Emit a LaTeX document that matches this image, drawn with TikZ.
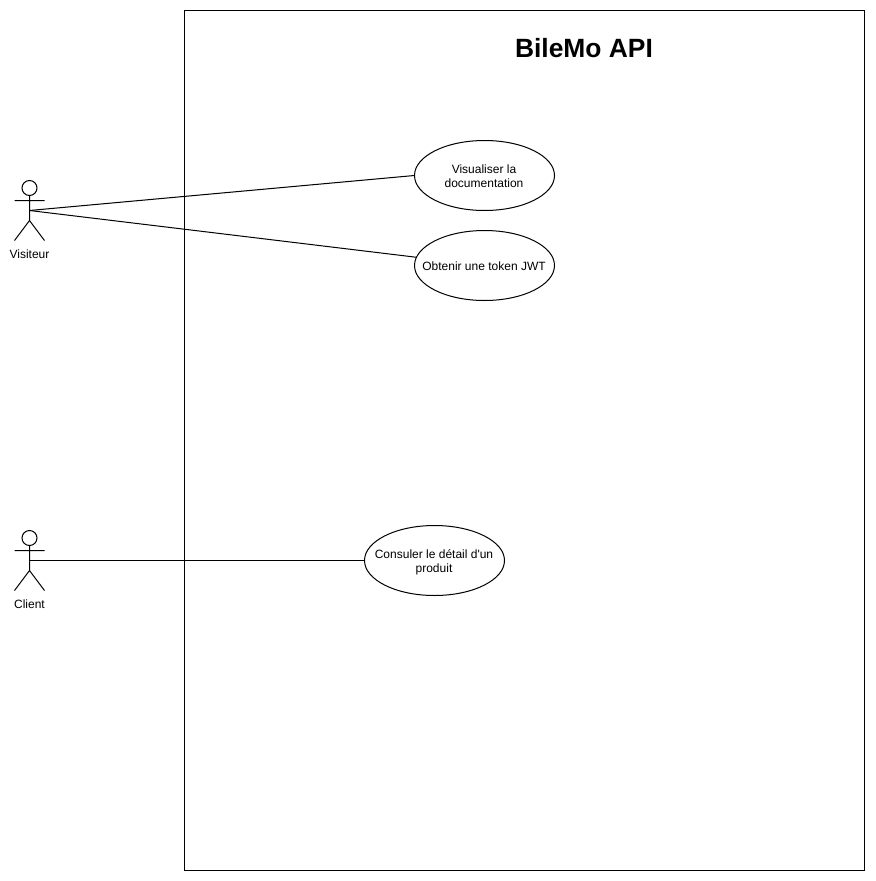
\documentclass[tikz,border=0pt]{standalone}
\usepackage{fontspec}
\setmainfont{Liberation Sans}[Ligatures=TeXOff]
\usetikzlibrary{shapes.geometric}
\tikzset{
  usecase/.style={draw=black,fill=white,ellipse,minimum width=105pt,minimum height=52.5pt,inner sep=0pt,outer sep=0pt},
  usetext/.style={inner sep=0pt,align=center,font=\fontsize{9}{10.5}\selectfont},
  actorlabel/.style={inner sep=0pt,font=\fontsize{9}{10.5}\selectfont},
  titletext/.style={inner sep=0pt,font=\fontsize{19.8}{24}\selectfont\bfseries},
  line/.style={draw=black,line width=0.75pt},
}
\begin{document}
\begin{tikzpicture}[x=0.75pt,y=-0.75pt,line width=0.75pt]
\useasboundingbox (0,0) rectangle (875,881);
\fill[white] (0,0) rectangle (875,881);
\node[draw=black,line width=0.75pt,minimum width=510pt,minimum height=645pt,inner sep=0pt] (system) at (524.5,440.5) {};
\node[titletext] (title) at (584,48) {BileMo API};
% Visiteur
\coordinate (v) at (29.5,210.5);
\draw (29.5,188) circle (7.5*0.75pt);
\draw (29.5,195.5) -- (29.5,220.5) (14.5,200.5) -- (44.5,200.5) (14.5,240.5) -- (29.5,220.5) -- (44.5,240.5);
\node[actorlabel] (vl) at (29.5,254) {Visiteur};
% Client
\coordinate (c) at (29.5,560.5);
\draw (29.5,538) circle (7.5*0.75pt);
\draw (29.5,545.5) -- (29.5,570.5) (14.5,550.5) -- (44.5,550.5) (14.5,590.5) -- (29.5,570.5) -- (44.5,590.5);
\node[actorlabel] (cl) at (29.5,604) {Client};
% Use cases
\node[usecase] (u1) at (484.5,175.5) {};
\node[usetext] (t1) at (484,176.5) {Visualiser la\\documentation};
\node[usecase] (u2) at (484.5,265.5) {};
\node[usetext] (t2) at (484,266) {Obtenir une token JWT};
\node[usecase] (u3) at (434.5,560.5) {};
\node[usetext] (t3) at (434,562) {Consuler le détail d'un\\produit};
\draw[line] (v) -- (u1.west);
\draw[line] (v) -- (u2);
\draw[line] (c) -- (u3.west);
\end{tikzpicture}
\end{document}
